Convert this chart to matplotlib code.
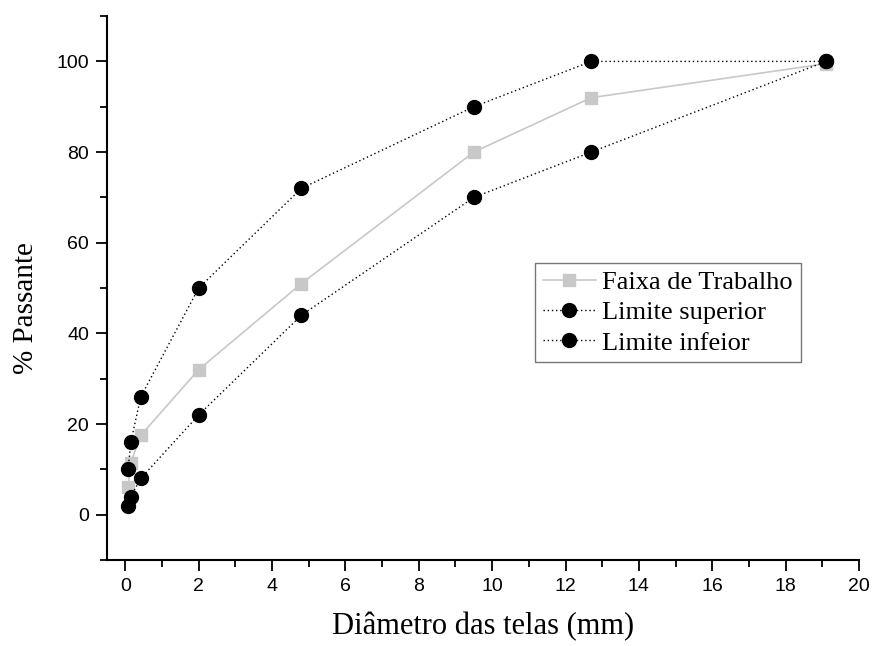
import matplotlib
matplotlib.use("Agg")
import matplotlib.pyplot as plt
from matplotlib.ticker import MultipleLocator

# sieve openings (mm) and percent passing
diametro = [0.075, 0.15, 0.42, 2.0, 4.8, 9.5, 12.7, 19.1]
faixa_trabalho = [6, 11.5, 17.5, 32, 51, 80, 92, 99.5]
limite_superior = [10, 16, 26, 50, 72, 90, 100, 100]
limite_inferior = [2, 4, 8, 22, 44, 70, 80, 100]

serif = ["Liberation Serif", "DejaVu Serif"]
sans = ["Liberation Sans", "DejaVu Sans"]

fig = plt.figure(figsize=(8.72, 6.46), dpi=100)
ax = fig.add_axes([0.1227, 0.1331, 0.8624, 0.842])

ax.plot(diametro, faixa_trabalho, color="#c8c8c8", lw=1.2, marker="s",
        ms=8, mec="#c8c8c8", mfc="#c8c8c8", label="Faixa de Trabalho", zorder=2)
ax.plot(diametro, limite_superior, color="black", lw=1, ls=(0, (1, 2)),
        marker="o", ms=10, mfc="black", mec="black", label="Limite superior", zorder=3)
ax.plot(diametro, limite_inferior, color="black", lw=1, ls=(0, (1, 2)),
        marker="o", ms=10, mfc="black", mec="black", label="Limite infeior", zorder=3)

ax.set_xlim(-0.5, 20)
ax.set_ylim(-10, 110)
ax.xaxis.set_major_locator(MultipleLocator(2))
ax.xaxis.set_minor_locator(MultipleLocator(1))
ax.yaxis.set_major_locator(MultipleLocator(20))
ax.yaxis.set_minor_locator(MultipleLocator(10))

for s in ["top", "right"]:
    ax.spines[s].set_visible(False)
for s in ["left", "bottom"]:
    ax.spines[s].set_linewidth(1.5)

ax.tick_params(which="major", direction="out", length=8, width=1.3,
               labelsize=14, pad=5)
ax.tick_params(which="minor", direction="out", length=5, width=1.3)
for lab in ax.get_xticklabels() + ax.get_yticklabels():
    lab.set_family(sans)

ax.set_xlabel("Diâmetro das telas (mm)", family=serif, fontsize=22, labelpad=12)
ax.set_ylabel("% Passante", family=serif, fontsize=21)
ax.yaxis.set_label_coords(-0.091, 0.463)

leg = ax.legend(loc="upper left", bbox_to_anchor=(0.569, 0.546),
                prop={"family": serif, "size": 19}, frameon=True, fancybox=False,
                edgecolor="#555555", handlelength=2.0, handletextpad=0.25,
                borderpad=0.3, labelspacing=0.25, borderaxespad=0)
leg.get_frame().set_linewidth(1)

fig.savefig("out.png", dpi=100)
